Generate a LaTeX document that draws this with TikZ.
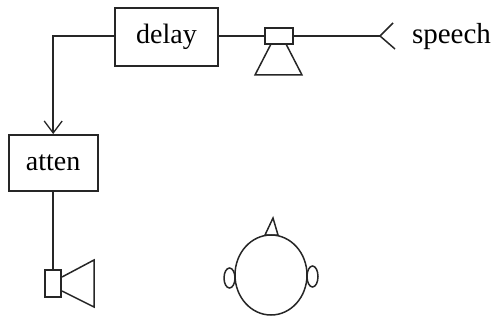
\documentclass[tikz,border=0pt]{standalone}
\usepackage{fontspec}
\setmainfont{Liberation Serif}
\usetikzlibrary{arrows.meta,shapes.geometric}
\tikzset{
  x=1pt,y=-1pt,
  wire/.style={line width=1.9pt,draw=black!85},
  thin wire/.style={line width=1.5pt,draw=black!85},
  blockbox/.style={draw=black!85,line width=1.9pt,inner sep=0pt,font=\fontsize{28}{28}\selectfont},
  magnet/.style={draw=black!85,line width=1.9pt,inner sep=0pt},
  earshape/.style={ellipse,draw=black!85,line width=1.5pt,inner sep=0pt},
}
\begin{document}
\begin{tikzpicture}
\useasboundingbox (0,0) rectangle (494,320);
\node[blockbox,minimum width=103pt,minimum height=58pt] (delay) at (166.5,37) {\raisebox{-1.5pt}{delay}};
\node[blockbox,minimum width=89pt,minimum height=56pt] (atten) at (53.2,163) {\raisebox{-1.5pt}{atten}};
\node[magnet,minimum width=28pt,minimum height=16pt] (spk1) at (279,36) {};
\node[magnet,minimum width=16pt,minimum height=27pt] (spk2) at (53.2,283.5) {};
\node[font=\fontsize{29}{29}\selectfont,inner sep=0pt] (speech) at (451.5,37) {speech};
\coordinate (mic) at (380,36);
\coordinate (micA) at (393,23);
\coordinate (micB) at (395,49);
\draw[thin wire] (micA) -- (mic) -- (micB);
\draw[wire] (spk1.east) -- (mic);
\draw[wire] (delay.east |- spk1.west) -- (spk1.west);
\draw[wire,-{Straight Barb[length=12pt,width=18pt,line width=1.3pt]}] (delay.west |- spk1.west) -| (atten.north);
\draw[wire] (atten.south) -- (spk2.north);
% speakers
\draw[thin wire] (271,44) -- (255,75) -- (302,75) -- (286,44);
\draw[thin wire] (62,277) -- (94,260) -- (94,307) -- (62,291);
% head
\node[earshape,minimum width=11pt,minimum height=20pt] (earL) at (229.5,278) {};
\node[earshape,minimum width=11pt,minimum height=21pt] (earR) at (312.5,276.5) {};
\draw[thin wire,fill=white] (271,275) ellipse [x radius=36,y radius=40];
\draw[thin wire] (265,235) -- (273,218) -- (278,235) -- cycle;
\end{tikzpicture}
\end{document}
